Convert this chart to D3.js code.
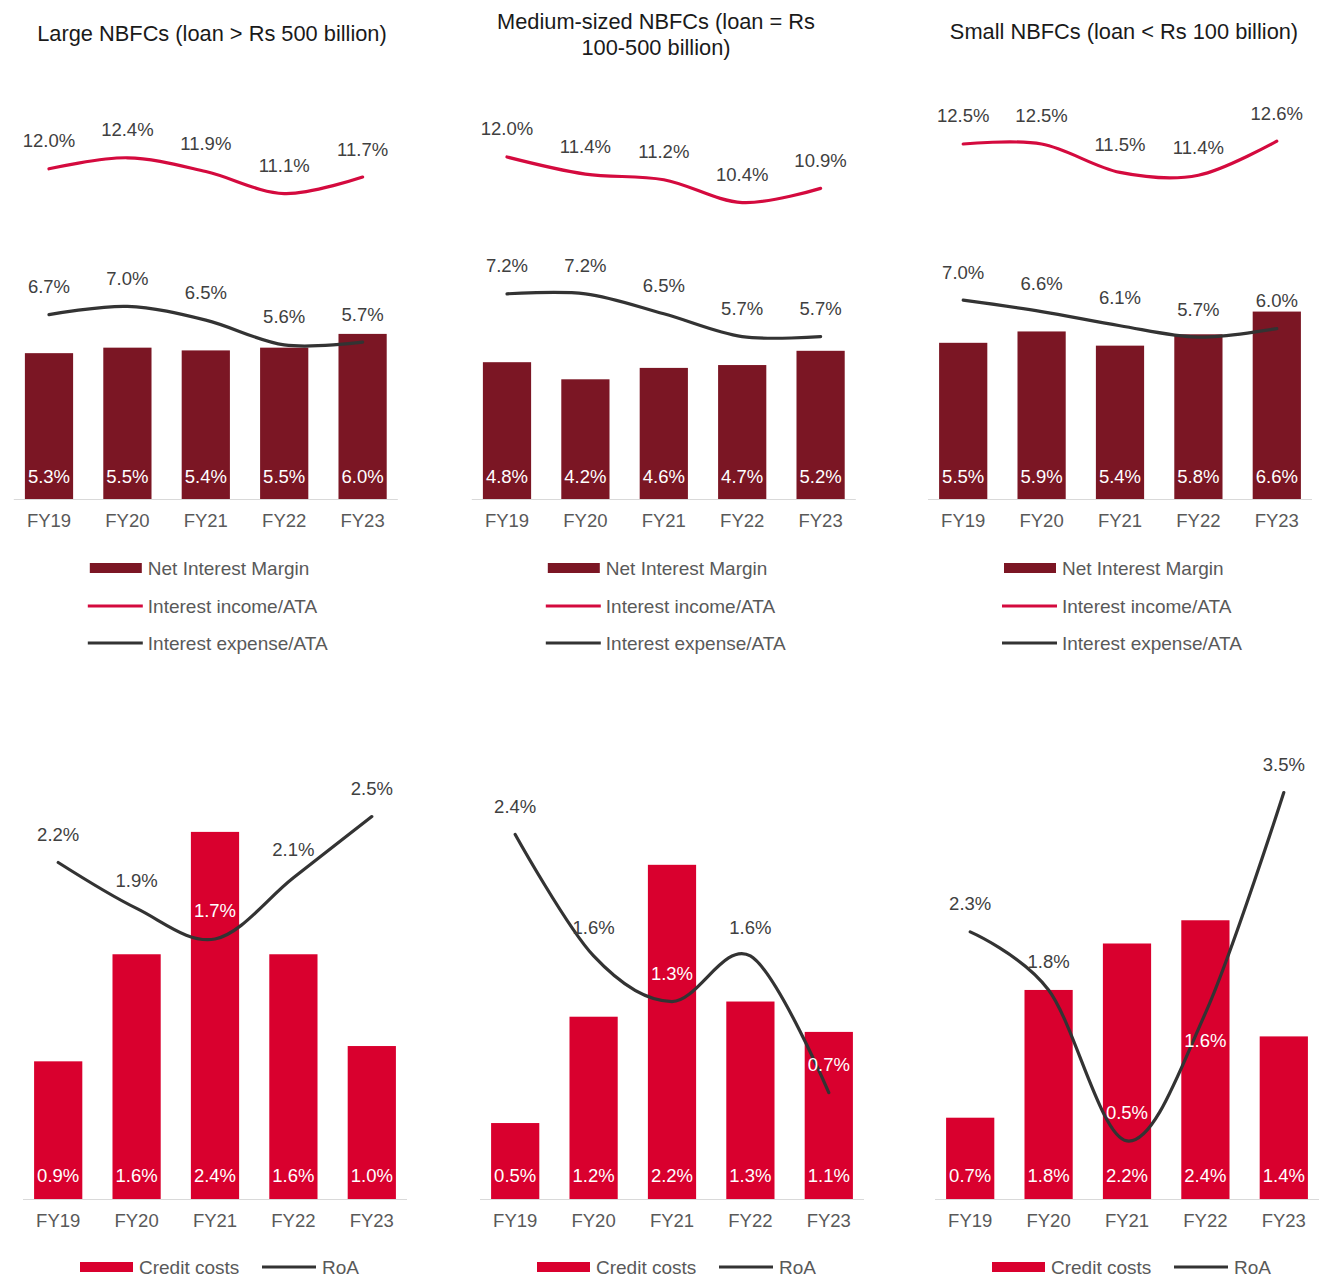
<!DOCTYPE html>
<html>
<head>
<meta charset="utf-8">
<script src="https://cdn.jsdelivr.net/npm/d3@7"></script>
<style>
  body { margin: 0; background: #fff; }
  svg { display: block; font-family: "Liberation Sans", Arial, sans-serif; }
</style>
</head>
<body>
<script>
// categories
var years = ["FY19", "FY20", "FY21", "FY22", "FY23"];

// panel titles
var titleLarge = ["Large NBFCs (loan > Rs 500 billion)"];
var titleMedium = ["Medium-sized NBFCs (loan = Rs", "100-500 billion)"];
var titleSmall = ["Small NBFCs (loan < Rs 100 billion)"];

// net interest margin (%)
var nimLarge = [5.3, 5.5, 5.4, 5.5, 6.0];
var nimMedium = [4.8, 4.2, 4.6, 4.7, 5.2];
var nimSmall = [5.5, 5.9, 5.4, 5.8, 6.6];

// interest income / ATA (%)
var incomeLarge = [12.0, 12.4, 11.9, 11.1, 11.7];
var incomeMedium = [12.0, 11.4, 11.2, 10.4, 10.9];
var incomeSmall = [12.5, 12.5, 11.5, 11.4, 12.6];

// interest expense / ATA (%)
var expenseLarge = [6.7, 7.0, 6.5, 5.6, 5.7];
var expenseMedium = [7.2, 7.2, 6.5, 5.7, 5.7];
var expenseSmall = [7.0, 6.6, 6.1, 5.7, 6.0];

// credit costs (%)
var creditLarge = [0.9, 1.6, 2.4, 1.6, 1.0];
var creditMedium = [0.5, 1.2, 2.2, 1.3, 1.1];
var creditSmall = [0.7, 1.8, 2.2, 2.4, 1.4];

// RoA (%)
var roaLarge = [2.2, 1.9, 1.7, 2.1, 2.5];
var roaMedium = [2.4, 1.6, 1.3, 1.6, 0.7];
var roaSmall = [2.3, 1.8, 0.5, 1.6, 3.5];

var legendTop = ["Net Interest Margin", "Interest income/ATA", "Interest expense/ATA"];
var legendBottom = ["Credit costs", "RoA"];

// styles
var NIM_COLOR = "#7b1624";
var INCOME_COLOR = "#d40a3e";
var EXPENSE_COLOR = "#333333";
var CREDIT_COLOR = "#d9002e";
var TEXT_COLOR = "#404040";
var AXIS_TEXT = "#595959";
var STEP = 78.4;
var VAL_FONT = "18.5px";
var LEG_FONT = "19px";

var svg = d3.select("body").append("svg")
  .attr("width", 1324)
  .attr("height", 1277);

var smooth = d3.line().curve(d3.curveCardinal.tension(0));

function fmt(v) { return v.toFixed(1) + "%"; }

// one panel: bars + lines, returns scales
function drawPanel(cfg) {
  var x = d3.scaleBand()
    .domain(years)
    .range([cfg.x0, cfg.x0 + 5 * STEP])
    .paddingInner(0.385)
    .paddingOuter(0.1925);
  var y = d3.scaleLinear()
    .domain([0, cfg.yMax])
    .range([cfg.base, cfg.top]);

  var g = svg.append("g");

  // bars
  g.selectAll("rect.bar")
    .data(cfg.bars)
    .enter().append("rect")
    .attr("class", "bar")
    .attr("x", function (d, i) { return x(years[i]); })
    .attr("width", x.bandwidth())
    .attr("y", function (d) { return y(d); })
    .attr("height", function (d) { return y(0) - y(d); })
    .attr("fill", cfg.barColor);

  // axis line
  g.append("line")
    .attr("x1", cfg.x0 + 4).attr("x2", cfg.x0 + 5 * STEP - 4)
    .attr("y1", y(0) + 0.5).attr("y2", y(0) + 0.5)
    .attr("stroke", "#d9d9d9").attr("stroke-width", 1.2);

  // category labels
  g.selectAll("text.cat")
    .data(years)
    .enter().append("text")
    .attr("class", "cat")
    .attr("x", function (d) { return x(d) + x.bandwidth() / 2; })
    .attr("y", y(0) + 22)
    .attr("dy", "0.35em")
    .attr("text-anchor", "middle")
    .attr("fill", AXIS_TEXT)
    .style("font-size", VAL_FONT)
    .text(function (d) { return d; });

  // bar value labels
  g.selectAll("text.barval")
    .data(cfg.bars)
    .enter().append("text")
    .attr("class", "barval")
    .attr("x", function (d, i) { return x(years[i]) + x.bandwidth() / 2; })
    .attr("y", y(0) - cfg.barLabelOff)
    .attr("dy", "0.35em")
    .attr("text-anchor", "middle")
    .attr("fill", "#ffffff")
    .style("font-size", VAL_FONT)
    .text(fmt);

  // lines
  cfg.lines.forEach(function (ln) {
    var pts = ln.values.map(function (v, i) {
      return [x(years[i]) + x.bandwidth() / 2, y(v)];
    });
    g.append("path")
      .attr("d", smooth(pts))
      .attr("fill", "none")
      .attr("stroke", ln.color)
      .attr("stroke-width", 3.2)
      .attr("stroke-linecap", "round");

    ln.values.forEach(function (v, i) {
      var below = ln.below && ln.below.indexOf(i) >= 0;
      var ly = below ? y(v) + 27 : y(v) - 28;
      var inside = ly > y(cfg.bars[i]) + 4;
      g.append("text")
        .attr("x", pts[i][0])
        .attr("y", ly)
        .attr("dy", "0.35em")
        .attr("text-anchor", "middle")
        .attr("fill", inside ? "#ffffff" : TEXT_COLOR)
        .style("font-size", VAL_FONT)
        .text(fmt(v));
    });
  });
  return { x: x, y: y };
}

// ---- top row ----
var topPanels = [
  { x0: 9.8, titleX: 212, titleY: 33, title: titleLarge, bars: nimLarge, inc: incomeLarge, exp: expenseLarge, yMax: 14.5 },
  { x0: 467.8, titleX: 656, titleY: 21, title: titleMedium, bars: nimMedium, inc: incomeMedium, exp: expenseMedium, yMax: 14.0 },
  { x0: 924, titleX: 1124, titleY: 31, title: titleSmall, bars: nimSmall, inc: incomeSmall, exp: expenseSmall, yMax: 14.05 }
];

topPanels.forEach(function (p) {
  drawPanel({
    x0: p.x0, base: 499, top: 100, yMax: p.yMax,
    bars: p.bars, barColor: NIM_COLOR, barLabelOff: 22,
    lines: [
      { values: p.inc, color: INCOME_COLOR },
      { values: p.exp, color: EXPENSE_COLOR }
    ]
  });

  p.title.forEach(function (t, k) {
    svg.append("text")
      .attr("x", p.titleX)
      .attr("y", p.titleY + k * 26)
      .attr("dy", "0.35em")
      .attr("text-anchor", "middle")
      .attr("fill", "#1a1a1a")
      .style("font-size", "21.8px")
      .text(t);
  });

  // legend
  var lx = p.x0 + 80;
  var rows = [568, 606, 643];
  svg.append("rect")
    .attr("x", lx).attr("y", rows[0] - 5)
    .attr("width", 52).attr("height", 10)
    .attr("fill", NIM_COLOR);
  svg.append("line")
    .attr("x1", lx - 2).attr("x2", lx + 53)
    .attr("y1", rows[1]).attr("y2", rows[1])
    .attr("stroke", INCOME_COLOR).attr("stroke-width", 3.2);
  svg.append("line")
    .attr("x1", lx - 2).attr("x2", lx + 53)
    .attr("y1", rows[2]).attr("y2", rows[2])
    .attr("stroke", EXPENSE_COLOR).attr("stroke-width", 3.2);
  legendTop.forEach(function (t, k) {
    svg.append("text")
      .attr("x", lx + 58)
      .attr("y", rows[k])
      .attr("dy", "0.35em")
      .attr("fill", AXIS_TEXT)
      .style("font-size", LEG_FONT)
      .text(t);
  });
});

// ---- bottom row ----
var bottomPanels = [
  { x0: 19, bars: creditLarge, roa: roaLarge, yMax: 2.87, below: [] },
  { x0: 476, bars: creditMedium, roa: roaMedium, yMax: 2.89, below: [] },
  { x0: 931, bars: creditSmall, roa: roaSmall, yMax: 3.78, below: [3] }
];

bottomPanels.forEach(function (p) {
  drawPanel({
    x0: p.x0, base: 1199, top: 760, yMax: p.yMax,
    bars: p.bars, barColor: CREDIT_COLOR, barLabelOff: 23,
    lines: [{ values: p.roa, color: EXPENSE_COLOR, below: p.below }]
  });

  var ly = 1267;
  var lx = p.x0 + 61;
  svg.append("rect")
    .attr("x", lx).attr("y", ly - 5)
    .attr("width", 53).attr("height", 10)
    .attr("fill", CREDIT_COLOR);
  svg.append("text")
    .attr("x", lx + 59).attr("y", ly).attr("dy", "0.35em")
    .attr("fill", AXIS_TEXT).style("font-size", LEG_FONT)
    .text(legendBottom[0]);
  svg.append("line")
    .attr("x1", lx + 182).attr("x2", lx + 236)
    .attr("y1", ly).attr("y2", ly)
    .attr("stroke", EXPENSE_COLOR).attr("stroke-width", 3.2);
  svg.append("text")
    .attr("x", lx + 242).attr("y", ly).attr("dy", "0.35em")
    .attr("fill", AXIS_TEXT).style("font-size", LEG_FONT)
    .text(legendBottom[1]);
});
</script>
</body>
</html>
